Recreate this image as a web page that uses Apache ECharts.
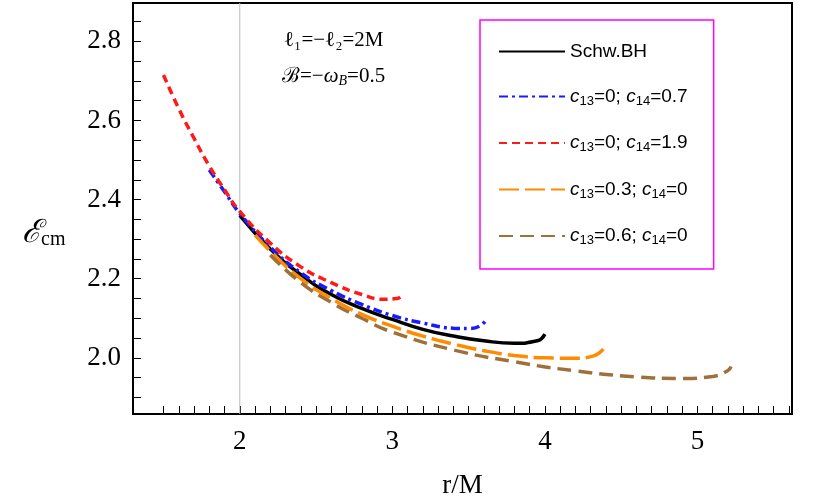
<!DOCTYPE html>
<html>
<head>
<meta charset="UTF-8">
<script src="https://cdn.jsdelivr.net/npm/echarts@6/dist/echarts.min.js"></script>
<style>html,body{margin:0;background:#fff}#c{width:814px;height:504px}</style>
</head>
<body>
<div id="c"></div>
<script>
var schw = [[2.0,2.36],[2.2,2.275],[2.4,2.21],[2.6,2.16],[2.8,2.125],[3.0,2.097],[3.2,2.072],[3.4,2.055],[3.6,2.043],[3.8,2.037],[3.95,2.043],[4.0,2.06]];
var c14a = [[1.8,2.475],[1.9,2.42],[2.0,2.365],[2.2,2.28],[2.4,2.215],[2.6,2.17],[2.8,2.135],[3.0,2.107],[3.2,2.088],[3.4,2.075],[3.5,2.074],[3.58,2.082],[3.62,2.10]];
var c14b = [[1.5,2.715],[1.6,2.63],[1.7,2.555],[1.8,2.485],[1.9,2.425],[2.0,2.37],[2.2,2.29],[2.4,2.23],[2.6,2.19],[2.8,2.16],[2.95,2.148],[3.03,2.15],[3.07,2.16]];
var c13a = [[2.1,2.31],[2.2,2.27],[2.4,2.2],[2.6,2.15],[2.8,2.11],[3.0,2.08],[3.2,2.055],[3.4,2.035],[3.6,2.018],[3.8,2.006],[4.0,2.0],[4.2,1.999],[4.32,2.005],[4.4,2.03]];
var c13b = [[2.2,2.26],[2.4,2.19],[2.6,2.14],[2.8,2.1],[3.0,2.065],[3.4,2.02],[3.8,1.99],[4.2,1.967],[4.6,1.952],[4.9,1.948],[5.1,1.953],[5.2,1.968],[5.22,1.978]];
var xTicks = [2, 3, 4, 5];
var yTicks = [2.0, 2.2, 2.4, 2.6, 2.8];
var names = ['Schw.BH', 'c13=0; c14=0.7', 'c13=0; c14=1.9', 'c13=0.3; c14=0', 'c13=0.6; c14=0'];

var minorX = [], minorY = [];
for (var i = 15; i <= 56; i++) minorX.push(i / 10);
for (var j = 38; j <= 57; j++) minorY.push(j / 20);

var serif = 'Liberation Serif';
var myChart = echarts.init(document.getElementById('c'));

function mk(name, data, color, dash) {
    return {
        name: name, type: 'line', data: data, smooth: true, symbol: 'none',
        lineStyle: {color: color, width: 3.5, type: dash}, itemStyle: {color: color}, z: 5
    };
}

function legendFmt(n) {
    if (n === 'Schw.BH') return n;
    var m = n.match(/c13=([\d.]+); c14=([\d.]+)/);
    return '{i|c}{s|13}=' + m[1] + '; {i|c}{s|14}=' + m[2];
}

option = {
    animation: false,
    grid: {left: 133, right: 22, top: 3, bottom: 84, show: true, borderColor: '#000', borderWidth: 2},
    xAxis: {
        type: 'value', min: 1.3, max: 5.62,
        axisLine: {show: false},
        splitLine: {show: false},
        axisTick: {inside: true, length: 8, customValues: minorX, lineStyle: {color: '#000'}},
        axisLabel: {customValues: xTicks, fontFamily: serif, fontSize: 27, color: '#000', margin: 14},
        name: 'r/M', nameLocation: 'middle', nameGap: 58,
        nameTextStyle: {fontFamily: serif, fontSize: 27, color: '#000'}
    },
    yAxis: {
        type: 'value', min: 1.858, max: 2.897,
        axisLine: {show: false},
        splitLine: {show: false},
        axisTick: {inside: true, length: 8, customValues: minorY, lineStyle: {color: '#000'}},
        axisLabel: {customValues: yTicks, fontFamily: serif, fontSize: 27, color: '#000', margin: 12,
            formatter: function (v) { return v.toFixed(1); }}
    },
    legend: {
        data: names, orient: 'vertical', left: 480, top: 20,
        padding: [22, 26, 22, 18], itemGap: 26, itemWidth: 66, itemHeight: 14,
        borderColor: '#ff00ff', borderWidth: 1.5, backgroundColor: '#fff',
        itemStyle: {opacity: 0},
        formatter: legendFmt,
        textStyle: {fontFamily: 'Liberation Sans', fontSize: 19, color: '#000',
            rich: {i: {fontStyle: 'italic', fontSize: 19, fontFamily: 'Liberation Sans'},
                   s: {fontSize: 13, padding: [9, 0, 0, 0], fontFamily: 'Liberation Sans'}}}
    },
    graphic: [
        {type: 'text', left: 22, top: 218, style: {rich: {a: {fontFamily: serif, fontSize: 32, fontStyle: 'italic', fill: '#000'}, b: {fontFamily: serif, fontSize: 20, fill: '#000', padding: [12, 0, 0, 0]}}, text: '{a|ℰ}{b|cm}'}},
        {type: 'text', left: 284, top: 30, style: {text: 'ℓ₁=−ℓ₂=2M', fontFamily: serif, fontSize: 21, fill: '#000'}},
        {type: 'text', left: 282, top: 66, style: {text: '', fill: '#000'}}
    ],
    series: [
        {type: 'line', data: [[2, 1.858], [2, 2.897]], symbol: 'none', silent: true,
            lineStyle: {color: '#bbb', width: 1}, z: 1},
        mk(names[0], schw, '#000', 'solid'),
        mk(names[1], c14a, '#1a1aff', [9, 4, 3, 4]),
        mk(names[2], c14b, '#ff1a1a', [8, 5]),
        mk(names[3], c13a, '#ff8c00', [20, 6]),
        mk(names[4], c13b, '#a0703a', [14, 7])
    ]
};
option.graphic[2].style.text = '{a|ℬ=−}{b|ω}{c|B}{a|=0.5}';
option.graphic[2].style.rich = {
    a: {fontFamily: serif, fontSize: 21, fill: '#000'},
    b: {fontFamily: serif, fontSize: 21, fontStyle: 'italic', fill: '#000'},
    c: {fontFamily: serif, fontSize: 14, fontStyle: 'italic', fill: '#000', padding: [9, 0, 0, 0]}
};
myChart.setOption(option);
</script>
</body>
</html>
